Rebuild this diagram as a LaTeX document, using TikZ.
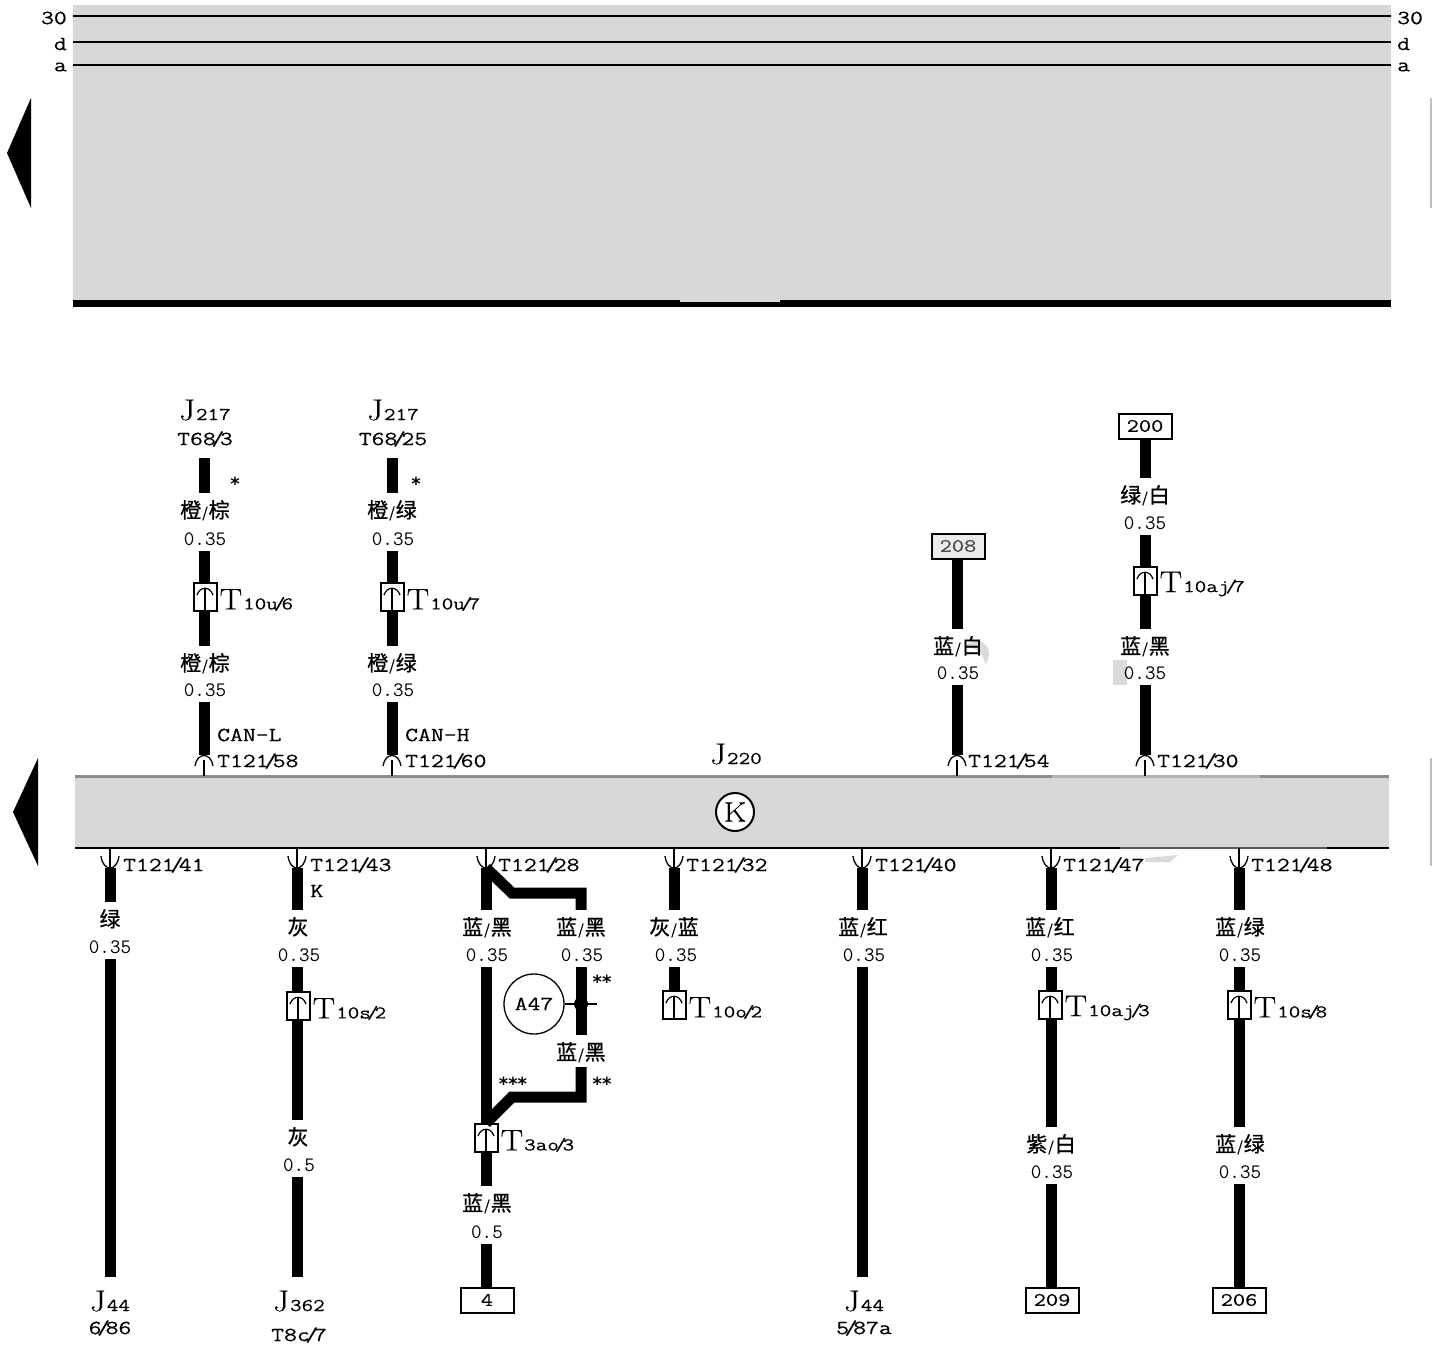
\documentclass[tikz,border=0pt]{standalone}
\usepackage{fontspec}
\newfontfamily\cjk[FakeBold=0.8]{Noto Sans CJK SC}
\newfontfamily\dv{DejaVu Sans}
\newfontfamily\mn[FakeStretch=1.25,FakeBold=0.3]{Latin Modern Mono}
\newfontfamily\rmw[FakeStretch=1.12,FakeBold=0.2]{Latin Modern Roman}
\definecolor{panel}{HTML}{D5D7D9}
\definecolor{smear}{HTML}{DADADA}
\newcommand\slk{\kern-.22em/\kern-.22em}
\newcommand\mono[1]{{\mn\fontsize{20}{20}\selectfont #1}}
\newcommand\gau[1]{{\ttfamily\fontsize{20.5}{20.5}\selectfont #1}}
\newcommand\cjl[2]{{\cjk\fontsize{21}{21}\selectfont #1\kern1pt{\fontsize{14}{14}\selectfont/}\kern1pt#2}}
\newcommand\cjs[1]{{\cjk\fontsize{21}{21}\selectfont #1}}
\newcommand\bgt[2]{{\rmw\fontsize{30}{30}\selectfont #1\kern1pt}{\mn\fontsize{18}{18}\selectfont #2}}
\tikzset{
 wire/.style={line width=11pt,black,line cap=butt,line join=miter},
 thinl/.style={line width=1.3pt,black},
 colorlab/.style={inner sep=0pt,minimum height=32pt,text depth=0pt},
 gaugelab/.style={inner sep=0pt,minimum height=24pt},
 txt/.style={inner sep=0pt},
 boxlab/.style={draw,line width=2pt,fill=white,inner sep=0pt,minimum width=53pt,minimum height=25pt,font=\mn\fontsize{19}{19}\selectfont},
 connbox/.style={draw,line width=2pt,fill=white,inner sep=0pt,minimum width=23pt,minimum height=28pt,
   path picture={
     \draw[line width=1.2pt] ([shift={(-8,12)}]path picture bounding box.north) .. controls ([shift={(-5,3)}]path picture bounding box.north) and ([shift={(5,3)}]path picture bounding box.north) .. ([shift={(8,12)}]path picture bounding box.north);
     \draw[line width=1.2pt] ([shift={(0,6)}]path picture bounding box.north) -- (path picture bounding box.south);
   }},
}
\newcommand\pinup[3]{\coordinate (#1) at (#2,#3);
 \draw[thinl] ([shift={(-9,11)}]#1) .. controls ([shift={(-7,-3)}]#1) and ([shift={(7,-3)}]#1) .. ([shift={(9,11)}]#1);
 \draw[thinl] ([shift={(0,5)}]#1) -- ([shift={(0,21)}]#1);}
\newcommand\pindown[3]{\coordinate (#1) at (#2,#3);
 \draw[thinl] ([shift={(-9,-12)}]#1) .. controls ([shift={(-7,4)}]#1) and ([shift={(7,4)}]#1) .. ([shift={(9,-12)}]#1);
 \draw[thinl] ([shift={(0,-20)}]#1) -- (#1);}
\newcommand\conn[4]{\node[connbox] (#1) at (#2,#3) {};
 \node[txt,anchor=west] (#1t) at ([shift={(2,3)}]#1.east) {#4};}
\newcommand\cl[4]{\node[colorlab] (#1) at (#2,#3) {#4};}
\begin{document}
\begin{tikzpicture}[x=1pt,y=-1pt]
\useasboundingbox (0,0) rectangle (1432,1347);
% upper panel
\fill[panel] (73,5) rectangle (1391,300);
\fill[black] (73,300) rectangle (1391,307);
\fill[smear] (680,299) rectangle (780,302);
\foreach \yy/\nn/\lab in {16/a/30,42/b/d,65/c/a}{
  \coordinate (L\nn) at (73,\yy);
  \coordinate (R\nn) at (1391,\yy);
  \draw[line width=2pt] (L\nn) -- (R\nn);
  \node[txt,anchor=east] at (67,\yy+2) {\mono{\lab}};
  \node[txt,anchor=west] at (1397,\yy+2) {\mono{\lab}};
}
\fill (7,153) -- (31,98) -- (31,208) -- cycle;
\fill (13,812) -- (38,758) -- (38,866) -- cycle;
\draw[line width=1.5pt,gray!50] (1431,98) -- (1431,208);
\draw[line width=1.5pt,gray!50] (1431,758) -- (1431,866);
% module bar
\fill[panel] (75,776) rectangle (1389,848);
\draw[line width=3pt,gray!90] (75,776.5) -- (1389,776.5);
\draw[line width=3pt,gray!60] (1052,776.5) -- (1260,776.5);
\draw[line width=2pt,black] (75,847.5) -- (1389,847.5);
\draw[line width=2pt,black!65] (1120,847.5) -- (1327,847.5);
\node[txt] (J220) at (736,754) {\bgt{J}{220}};
\node[draw,circle,line width=2pt,fill=white,minimum size=38pt,inner sep=0pt,font=\rmw\fontsize{28}{28}\selectfont] (K) at (735,812) {K};
% smears
\fill[smear] (978,640) .. controls (990,645) and (992,655) .. (985,665) .. controls (984,655) and (980,650) .. (965,645) -- cycle;
\fill[smear] (1113,660) rectangle (1127,685);
\fill[smear] (1145,858) -- (1178,855) -- (1170,862) -- (1145,862) -- cycle;

% --- upper wires
\node[txt] (J1) at (205,410) {\bgt{J}{217}};
\node[txt] (Tp1) at (205,439) {\mono{T68\slk3}};
\node[txt] (s1) at (235,484) {\dv\bfseries\fontsize{18}{18}\selectfont *};
\coordinate (w1a) at (204,458);
\cl{c1a}{205}{509}{\cjl{橙}{棕}}
\node[gaugelab] (g1a) at (205,539) {\gau{0.35}};
\conn{k1}{205}{597}{\bgt{T}{10u\slk6}}
\cl{c1b}{205}{662}{\cjl{橙}{棕}}
\node[gaugelab] (g1b) at (205,690) {\gau{0.35}};
\pinup{p1}{204}{755}
\node[txt,anchor=west] (can1) at (217,735) {\mono{CAN-L}};
\node[txt,anchor=west] (t1) at (217,761) {\mono{T121\slk58}};
\draw[wire] (w1a) -- (w1a|-c1a.north);
\draw[wire] (g1a.south-|p1) -- (k1.north-|p1);
\draw[wire] (k1.south-|p1) -- (c1b.north-|p1);
\draw[wire] (g1b.south-|p1) -- (p1);

\node[txt] (J2) at (393,410) {\bgt{J}{217}};
\node[txt] (Tp2) at (393,439) {\mono{T68\slk25}};
\node[txt] (s2) at (416,484) {\dv\bfseries\fontsize{18}{18}\selectfont *};
\coordinate (w2a) at (392,458);
\cl{c2a}{392}{509}{\cjl{橙}{绿}}
\node[gaugelab] (g2a) at (393,539) {\gau{0.35}};
\conn{k2}{392}{597}{\bgt{T}{10u\slk7}}
\cl{c2b}{392}{662}{\cjl{橙}{绿}}
\node[gaugelab] (g2b) at (393,690) {\gau{0.35}};
\pinup{p2}{392}{755}
\node[txt,anchor=west] (can2) at (405,735) {\mono{CAN-H}};
\node[txt,anchor=west] (t2) at (405,761) {\mono{T121\slk60}};
\draw[wire] (w2a) -- (w2a|-c2a.north);
\draw[wire] (g2a.south-|p2) -- (k2.north-|p2);
\draw[wire] (k2.south-|p2) -- (c2b.north-|p2);
\draw[wire] (g2b.south-|p2) -- (p2);

\node[boxlab,fill=black!8,text=black!70] (b208) at (958,546) {208};
\cl{c3}{958}{645}{\cjl{蓝}{白}}
\node[gaugelab] (g3) at (958,673) {\gau{0.35}};
\pinup{p3}{957}{755}
\node[txt,anchor=west] (t3) at (968,761) {\mono{T121\slk54}};
\draw[wire] (b208.south-|p3) -- (c3.north-|p3);
\draw[wire] (g3.south-|p3) -- (p3);

\node[boxlab] (b200) at (1145,426) {200};
\cl{c4a}{1145}{494}{\cjl{绿}{白}}
\node[gaugelab] (g4a) at (1145,523) {\gau{0.35}};
\conn{k4}{1145}{581}{\bgt{T}{10aj\slk7}}
\cl{c4b}{1145}{645}{\cjl{蓝}{黑}}
\node[gaugelab] (g4b) at (1145,673) {\gau{0.35}};
\pinup{p4}{1145}{755}
\node[txt,anchor=west] (t4) at (1157,761) {\mono{T121\slk30}};
\draw[wire] (b200.south-|p4) -- (c4a.north-|p4);
\draw[wire] (g4a.south-|p4) -- (k4.north-|p4);
\draw[wire] (k4.south-|p4) -- (c4b.north-|p4);
\draw[wire] (g4b.south-|p4) -- (p4);

% --- lower wires
\pindown{q1}{110}{868}
\node[txt,anchor=west] (u1) at (123,865) {\mono{T121\slk41}};
\cl{d1}{110}{918}{\cjs{绿}}
\node[gaugelab] (h1) at (110,947) {\gau{0.35}};
\node[txt] (e1) at (110,1301) {\bgt{J}{44}};
\node[txt] (f1) at (110,1328) {\mono{6\slk86}};
\draw[wire] (q1) -- (d1.north-|q1);
\draw[wire] (h1.south-|q1) -- ([yshift=13pt]e1.north-|q1);

\pindown{q2}{297}{868}
\node[txt,anchor=west] (u2) at (310,865) {\mono{T121\slk43}};
\node[txt] (K2) at (317,891) {\mono{K}};
\cl{d2}{298}{926}{\cjs{灰}}
\node[gaugelab] (h2) at (299,955) {\gau{0.35}};
\conn{k5}{298}{1006}{\bgt{T}{10s\slk2}}
\cl{d2b}{298}{1136}{\cjs{灰}}
\node[gaugelab] (h2b) at (299,1165) {\gau{0.5}};
\node[txt] (e2) at (299,1301) {\bgt{J}{362}};
\node[txt] (f2) at (299,1335) {\mono{T8c\slk7}};
\draw[wire] (q2) -- (d2.north-|q2);
\draw[wire] (h2.south-|q2) -- (k5.north-|q2);
\draw[wire] (k5.south-|q2) -- (d2b.north-|q2);
\draw[wire] (h2b.south-|q2) -- ([yshift=13pt]e2.north-|q2);

\pindown{q3}{486}{868}
\node[txt,anchor=west] (u3) at (498,865) {\mono{T121\slk28}};
\cl{d3}{487}{926}{\cjl{蓝}{黑}}
\node[gaugelab] (h3) at (487,955) {\gau{0.35}};
\conn{k6}{486}{1138}{\bgt{T}{3ao\slk3}}
\cl{d3b}{487}{1202}{\cjl{蓝}{黑}}
\node[gaugelab] (h3b) at (487,1232) {\gau{0.5}};
\node[boxlab] (b4) at (487,1300) {4};
\draw[wire] (q3) -- (d3.north-|q3);
\draw[wire] (h3.south-|q3) -- (k6.north-|q3);
\draw[wire] (k6.south-|q3) -- (d3b.north-|q3);
\draw[wire] (h3b.south-|q3) -- (b4.north-|q3);
% branch
\coordinate (br1) at (512,893);
\coordinate (br2) at (581,893);
\coordinate (br3) at (581,1097);
\coordinate (br4) at (512,1097);
\cl{d6}{581}{926}{\cjl{蓝}{黑}}
\node[gaugelab] (h6) at (582,955) {\gau{0.35}};
\cl{d6b}{581}{1051}{\cjl{蓝}{黑}}
\draw[wire] (q3) -- (br1) -- (br2) -- (d6.north-|br2);
\draw[wire] (h6.south-|br2) -- (d6b.north-|br2);
\draw[wire] (d6b.south-|br2) -- (br3) -- (br4) -- (k6.north);
\node[draw,circle,line width=1.3pt,minimum size=60pt,inner sep=0pt] (A47) at (534,1004) {\mono{A47}};
\coordinate (a47e) at (597,1004);
\draw[thinl] (A47.east) -- (a47e);
\fill (581,1004) circle (7);
\node[txt] (s3) at (602,982) {\dv\bfseries\fontsize{18}{18}\selectfont **};
\node[txt] (s4) at (602,1084) {\dv\bfseries\fontsize{18}{18}\selectfont **};
\node[txt] (s5) at (513,1084) {\dv\bfseries\fontsize{18}{18}\selectfont ***};

\pindown{q4}{674}{868}
\node[txt,anchor=west] (u4) at (686,865) {\mono{T121\slk32}};
\cl{d4}{674}{926}{\cjl{灰}{蓝}}
\node[gaugelab] (h4) at (676,955) {\gau{0.35}};
\conn{k7}{674}{1005}{\bgt{T}{10o\slk2}}
\draw[wire] (q4) -- (d4.north-|q4);
\draw[wire] (h4.south-|q4) -- (k7.north-|q4);

\pindown{q5}{862}{868}
\node[txt,anchor=west] (u5) at (875,865) {\mono{T121\slk40}};
\cl{d5}{863}{926}{\cjl{蓝}{红}}
\node[gaugelab] (h5) at (864,955) {\gau{0.35}};
\node[txt] (e5) at (864,1301) {\bgt{J}{44}};
\node[txt] (f5) at (864,1328) {\mono{5\slk87a}};
\draw[wire] (q5) -- (d5.north-|q5);
\draw[wire] (h5.south-|q5) -- ([yshift=13pt]e5.north-|q5);

\pindown{q7}{1051}{868}
\node[txt,anchor=west] (u7) at (1063,865) {\mono{T121\slk47}};
\cl{d7}{1050}{926}{\cjl{蓝}{红}}
\node[gaugelab] (h7) at (1052,955) {\gau{0.35}};
\conn{k8}{1050}{1005}{\bgt{T}{10aj\slk3}}
\cl{d7b}{1051}{1143}{\cjl{紫}{白}}
\node[gaugelab] (h7b) at (1052,1172) {\gau{0.35}};
\node[boxlab] (b209) at (1052,1300) {209};
\draw[wire] (q7) -- (d7.north-|q7);
\draw[wire] (h7.south-|q7) -- (k8.north-|q7);
\draw[wire] (k8.south-|q7) -- (d7b.north-|q7);
\draw[wire] (h7b.south-|q7) -- (b209.north-|q7);

\pindown{q8}{1239}{868}
\node[txt,anchor=west] (u8) at (1251,865) {\mono{T121\slk48}};
\cl{d8}{1240}{926}{\cjl{蓝}{绿}}
\node[gaugelab] (h8) at (1240,955) {\gau{0.35}};
\conn{k9}{1239}{1005}{\bgt{T}{10s\slk8}}
\cl{d8b}{1240}{1143}{\cjl{蓝}{绿}}
\node[gaugelab] (h8b) at (1240,1172) {\gau{0.35}};
\node[boxlab] (b206) at (1239,1300) {206};
\draw[wire] (q8) -- (d8.north-|q8);
\draw[wire] (h8.south-|q8) -- (k9.north-|q8);
\draw[wire] (k9.south-|q8) -- (d8b.north-|q8);
\draw[wire] (h8b.south-|q8) -- (b206.north-|q8);
\end{tikzpicture}
\end{document}
